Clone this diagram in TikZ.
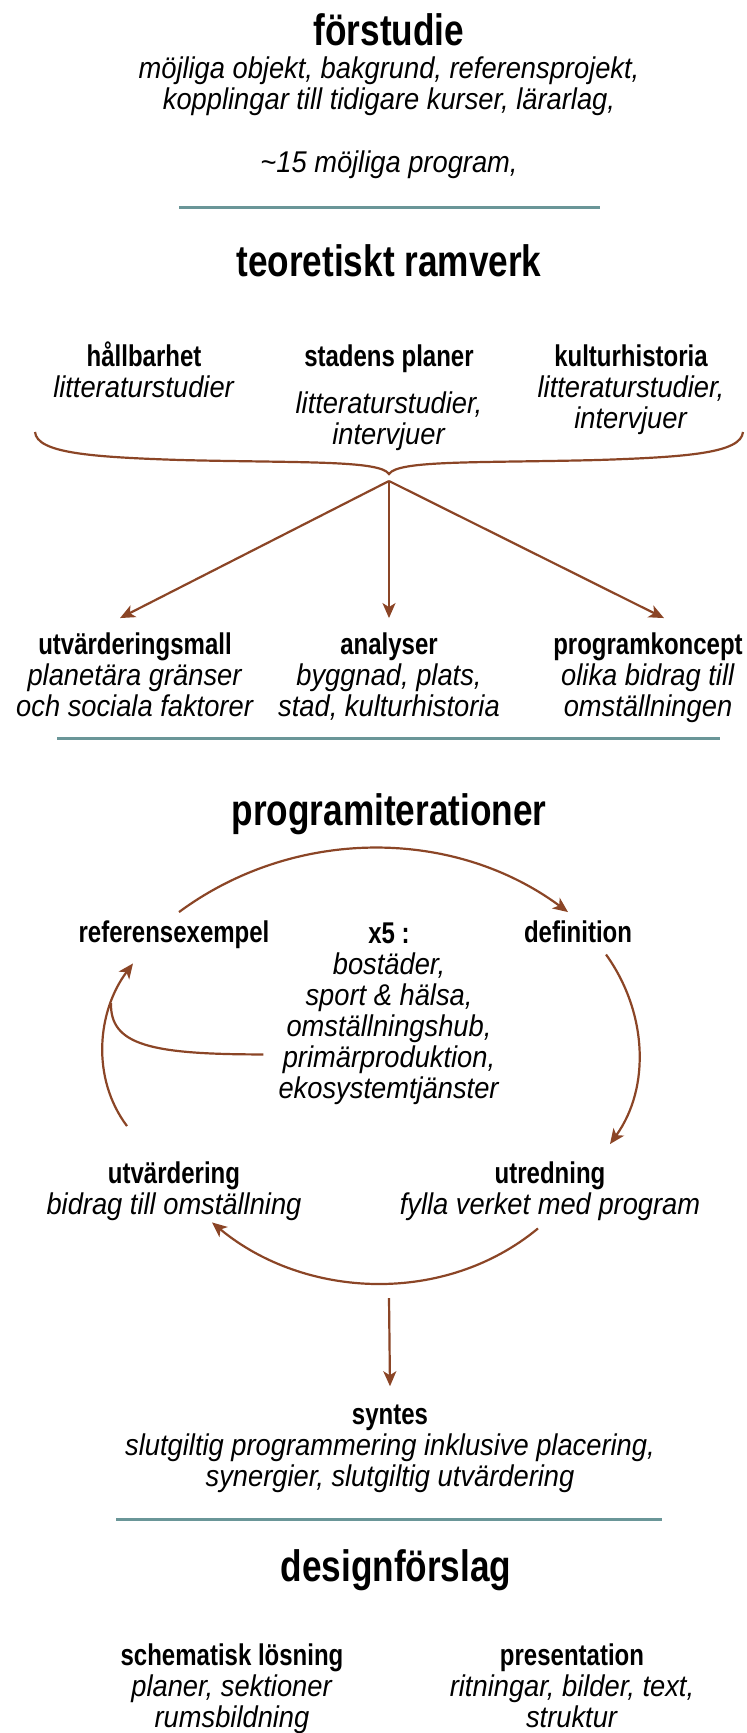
\documentclass[tikz,border=0pt]{standalone}
\usepackage{fontspec}
\setmainfont{Liberation Sans}[BoldFeatures={FakeStretch=0.8},ItalicFeatures={FakeStretch=0.91}]
\usetikzlibrary{arrows.meta}
\definecolor{rust}{RGB}{139,69,38}
\definecolor{sepline}{RGB}{106,150,152}

\begin{document}
\begin{tikzpicture}[x=1pt,y=-1pt,
    title/.style={anchor=base,inner sep=0pt,font=\fontsize{44}{50}\selectfont\bfseries},
    blk/.style={anchor=base,inner sep=0pt,align=center,font=\fontsize{30}{31}\selectfont},
    arr/.style={rust,line width=2.2pt,-{Stealth[length=15pt,width=13pt,inset=4pt]}},
    sep/.style={sepline,line width=3pt}]
\useasboundingbox (0,0) rectangle (747,1733);
% blocks sit on the baseline of their last line
\draw
    (389,45)   node[title] (fs)  {förstudie}
    (389,109)  node[blk]   (fsd) {\textit{möjliga objekt, bakgrund, referensprojekt,}\\\textit{kopplingar till tidigare kurser, lärarlag,}}
    (389,172)  node[blk]   (fsp) {\textit{\textasciitilde15 möjliga program,}}
    (389,276)  node[title] (tr)  {teoretiskt ramverk}
    (144,397)  node[blk]   (hb)  {\textbf{hållbarhet}\\\textit{litteraturstudier}}
    (389,444)  node[blk]   (sp)  {\textbf{stadens planer}\\[16pt]\textit{litteraturstudier,}\\\textit{intervjuer}}
    (631,428)  node[blk]   (kh)  {\textbf{kulturhistoria}\\\textit{litteraturstudier,}\\\textit{intervjuer}}
    (135,716)  node[blk]   (um)  {\textbf{utvärderingsmall}\\\textit{planetära gränser}\\\textit{och sociala faktorer}}
    (389,716)  node[blk]   (an)  {\textbf{analyser}\\\textit{byggnad, plats,}\\\textit{stad, kulturhistoria}}
    (648,716)  node[blk]   (pk)  {\textbf{programkoncept}\\\textit{olika bidrag till}\\\textit{omställningen}}
    (389,825)  node[title] (pi)  {programiterationer}
    (174,942)  node[blk]   (ref) {\textbf{referensexempel}}
    (389,1098) node[blk]   (x5)  {\textbf{x5 :}\\\textit{bostäder,}\\\textit{sport \& hälsa,}\\\textit{omställningshub,}\\\textit{primärproduktion,}\\\textit{ekosystemtjänster}}
    (578,942)  node[blk]   (def) {\textbf{definition}}
    (174,1214) node[blk]   (utv) {\textbf{utvärdering}\\\textit{bidrag till omställning}}
    (550,1214) node[blk]   (utr) {\textbf{utredning}\\\textit{fylla verket med program}}
    (390,1486) node[blk]   (syn) {\textbf{syntes}\\\textit{slutgiltig programmering inklusive placering,}\\\textit{synergier, slutgiltig utvärdering}}
    (396,1581) node[title] (df)  {designförslag}
    (232,1727) node[blk]   (sl)  {\textbf{schematisk lösning}\\\textit{planer, sektioner}\\\textit{rumsbildning}}
    (572,1727) node[blk]   (pr)  {\textbf{presentation}\\\textit{ritningar, bilder, text,}\\\textit{struktur}};

% separators
\draw[sep] (179,207) -- (600,207);
\draw[sep] (57,738) -- (720,738);
\draw[sep] (116,1519) -- (662,1519);

% brace and fork
\coordinate (bl) at (35,432);
\coordinate (br) at (743,432);
\coordinate (tip) at (389,474);
\coordinate (fork) at (389,481);
\draw[rust,line width=2.2pt] (bl) .. controls (37,453) and (90,457) .. (180,460)
    .. controls (300,463) and (380,460) .. (tip)
    .. controls (398,460) and (478,463) .. (598,460)
    .. controls (688,457) and (741,453) .. (br);
\draw[arr] (fork) -- ([shift={(-15,-14)}]um.north);
\draw[arr] (fork) -- ([shift={(0,-14)}]an.north);
\draw[arr] (fork) -- ([shift={(16,-14)}]pk.north);

% cycle
\draw[arr] ([shift={(5,-8)}]ref.north) .. controls +(115,-85) and +(-115,-85) .. ([shift={(-10,-8)}]def.north);
\draw[arr] ([shift={(28,12)}]def.south) .. controls +(41,57) and +(41,-57) .. ([shift={(60,-17)}]utr.north);
\draw[arr] ([shift={(-12,8)}]utr.south) .. controls +(-93,77) and +(93,77) .. ([shift={(38,2)}]utv.south);
\draw[arr] ([shift={(-47,-35)}]utv.north) .. controls +(-36,-48) and +(-36,48) .. ([shift={(-41,15)}]ref.south);
\coordinate (join) at (111,1003);
\draw[rust,line width=2.2pt] ([shift={(-15,-50)}]x5.south west) .. controls +(-113,0) and +(-1,42) .. (join);

% to synthesis
\coordinate (cyc) at (389,1298);
\draw[arr] (cyc) -- ([shift={(0,-18)}]syn.north);
\end{tikzpicture}
\end{document}
